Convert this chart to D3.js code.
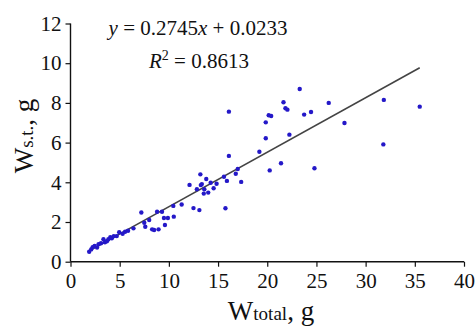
<!DOCTYPE html>
<html>
<head>
<meta charset="utf-8">
<script src="https://cdn.jsdelivr.net/npm/d3@7"></script>
<style>
  body { margin: 0; background: #fff; }
  svg { display: block; }
</style>
</head>
<body>
<svg id="chart" width="476" height="327"></svg>
<script>
// W total (x) and W s.t. (y)
const wTotal = [
  1.9, 2.1, 2.25, 2.45, 2.7, 2.85, 3.1, 3.35, 3.5, 3.7, 3.85, 4.05, 4.2, 4.4, 4.7, 4.95,
  5.3, 5.55, 5.85, 6.4, 7.2, 7.5, 7.6, 8.0, 8.3, 8.5, 8.95, 8.8, 9.3, 9.5, 9.6, 9.9,
  10.45, 10.5, 11.3, 12.1, 12.5, 13.1, 13.2, 13.8, 12.85, 13.35, 13.25, 14.25, 14.85,
  15.9, 17.35, 13.6, 14.55, 13.55, 14.0, 15.6, 16.8, 17.0, 15.75, 16.1, 16.1,
  19.2, 19.85, 19.85, 20.15, 20.4, 20.25, 21.4, 21.65, 21.85, 22.05, 22.25, 23.3,
  23.75, 24.45, 24.8, 26.25, 27.85, 31.85, 31.8, 35.5
];
const wSt = [
  0.50, 0.62, 0.73, 0.79, 0.71, 0.88, 0.93, 1.13, 0.98, 1.03, 1.13, 1.24, 1.18, 1.29, 1.29, 1.48,
  1.41, 1.51, 1.56, 1.68, 2.48, 1.96, 1.76, 2.10, 1.63, 1.60, 1.63, 2.52, 2.52, 2.20, 1.85, 2.20,
  2.81, 2.27, 2.88, 3.87, 2.70, 2.60, 4.40, 4.17, 3.65, 3.91, 3.86, 3.98, 3.93,
  4.07, 4.02, 3.65, 3.70, 3.43, 3.48, 4.28, 4.43, 4.67, 2.69, 5.33, 7.56,
  5.54, 6.22, 7.02, 7.38, 7.34, 4.60, 4.96, 8.03, 7.73, 7.66, 6.40, 8.70,
  7.41, 7.54, 4.71, 8.00, 6.99, 8.15, 5.91, 7.81
];

const slope = 0.2745;
const intercept = 0.0233;
const xTicks = [0, 5, 10, 15, 20, 25, 30, 35, 40];
const yTicks = [0, 2, 4, 6, 8, 10, 12];

const margin = { top: 23.5, right: 12, bottom: 65.3, left: 70.5 };
const width = 476 - margin.left - margin.right;
const height = 327 - margin.top - margin.bottom;
const serif = "'Liberation Serif', 'Times New Roman', Times, serif";

const svg = d3.select('#chart');
const g = svg.append('g').attr('transform', `translate(${margin.left},${margin.top})`);

const x = d3.scaleLinear().domain([0, 40]).range([0, width]);
const y = d3.scaleLinear().domain([0, 12]).range([height, 0]);

const xAxis = g
  .append('g')
  .attr('transform', `translate(0,${height})`)
  .call(d3.axisBottom(x).tickValues(xTicks).tickSize(5).tickPadding(6));
const yAxis = g.append('g').call(d3.axisLeft(y).tickValues(yTicks).tickSize(5).tickPadding(4));

[xAxis, yAxis].forEach((ax) => {
  ax.attr('font-family', serif).attr('font-size', 21);
  ax.select('.domain').attr('stroke', '#111').attr('stroke-width', 1.4);
  ax.selectAll('.tick line').attr('stroke', '#111').attr('stroke-width', 1.2);
  ax.selectAll('.tick text').attr('fill', '#111');
});
// plain axis lines, no outer ticks
xAxis.select('.domain').attr('d', `M0,0H${width}`);
yAxis.select('.domain').attr('d', `M0,0V${height}`);

// trend line over the data range
const xMin = d3.min(wTotal);
const xMax = d3.max(wTotal);
g.append('line')
  .attr('x1', x(xMin))
  .attr('y1', y(slope * xMin + intercept))
  .attr('x2', x(xMax))
  .attr('y2', y(slope * xMax + intercept))
  .attr('stroke', '#444')
  .attr('stroke-width', 1.6);

g.append('g')
  .selectAll('circle')
  .data(wTotal)
  .enter()
  .append('circle')
  .attr('cx', (d) => x(d))
  .attr('cy', (d, i) => y(wSt[i]))
  .attr('r', 2.2)
  .attr('fill', '#2418c8');

// equation
const eq = svg
  .append('text')
  .attr('x', 198)
  .attr('y', 35)
  .attr('text-anchor', 'middle')
  .attr('font-family', serif)
  .attr('font-size', 21)
  .attr('fill', '#111');
eq.append('tspan').attr('font-style', 'italic').text('y');
eq.append('tspan').text(' = ' + slope);
eq.append('tspan').attr('font-style', 'italic').text('x');
eq.append('tspan').text(' + ' + intercept);

const r2 = svg
  .append('text')
  .attr('x', 199)
  .attr('y', 68)
  .attr('text-anchor', 'middle')
  .attr('font-family', serif)
  .attr('font-size', 21)
  .attr('fill', '#111');
r2.append('tspan').attr('font-style', 'italic').text('R');
r2.append('tspan').attr('dy', -8).attr('font-size', 14).text('2');
r2.append('tspan').attr('dy', 8).text(' = 0.8613');

// axis titles
const xTitle = svg
  .append('text')
  .attr('x', 271)
  .attr('y', 320)
  .attr('text-anchor', 'middle')
  .attr('font-family', serif)
  .attr('fill', '#111');
xTitle.append('tspan').attr('font-size', 27).text('W');
xTitle.append('tspan').attr('font-size', 19).text('total');
xTitle.append('tspan').attr('font-size', 27).text(', g');

const yTitle = svg
  .append('text')
  .attr('transform', 'translate(33,136) rotate(-90)')
  .attr('text-anchor', 'middle')
  .attr('font-family', serif)
  .attr('fill', '#111');
yTitle.append('tspan').attr('font-size', 27).text('W');
yTitle.append('tspan').attr('font-size', 19).text('s.t.');
yTitle.append('tspan').attr('font-size', 27).text(', g');
</script>
</body>
</html>
